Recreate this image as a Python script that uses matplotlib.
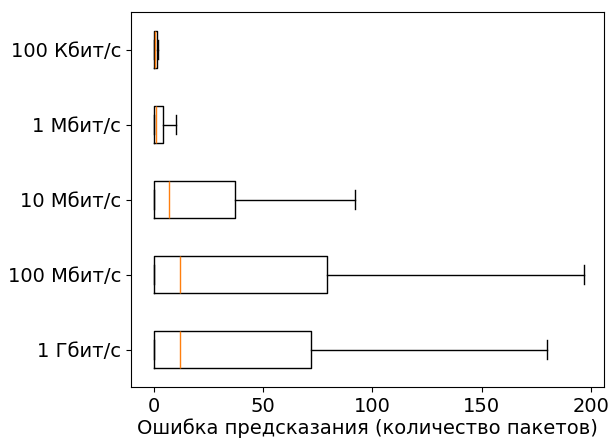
import matplotlib
matplotlib.use('Agg')
import matplotlib.pyplot as plt

# categories from bottom to top
labels = ['1 Гбит/с', '100 Мбит/с', '10 Мбит/с', '1 Мбит/с', '100 Кбит/с']
whislo = [0, 0, 0, 0, 0]
q1 = [0, 0, 0, 0, 0]
med = [12, 12, 7, 1, 0.3]
q3 = [72, 79, 37, 4, 1.4]
whishi = [180, 197, 92, 10, 2]

stats = []
for i in range(len(labels)):
  stats.append({'label': labels[i], 'whislo': whislo[i], 'q1': q1[i], 'med': med[i],
                'q3': q3[i], 'whishi': whishi[i], 'fliers': []})

fig = plt.figure(figsize=(6.09, 4.41), dpi=100)
ax = fig.add_axes([131/609, 1 - 387/441, (604 - 131)/609, (387 - 12)/441])
ax.bxp(stats, vert=False, showfliers=False)
ax.set_xlabel('Ошибка предсказания (количество пакетов)', fontsize=14, labelpad=2)
ax.tick_params(labelsize=14)
ax.set_xlim(-10.5, 206)
plt.savefig('out.png')
